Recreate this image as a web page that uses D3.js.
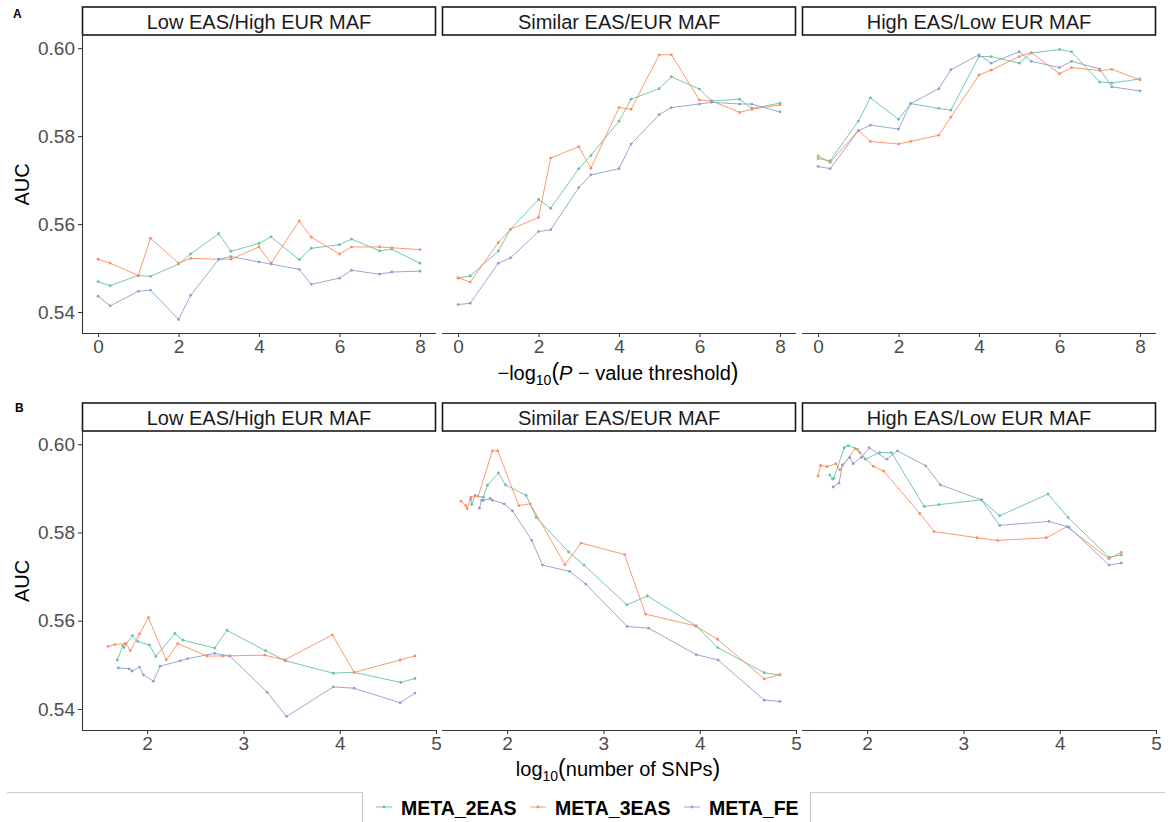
<!DOCTYPE html>
<html><head><meta charset="utf-8">
<script src="https://cdn.jsdelivr.net/npm/d3@7"></script>
<style>
html,body{margin:0;padding:0;background:#fff;}
text{font-family:"Liberation Sans",Arial,sans-serif;}
</style></head>
<body>
<svg id="chart" width="1171" height="822"></svg>
<script>
// ---------------- DATA ----------------
const facets = ["Low EAS/High EUR MAF", "Similar EAS/EUR MAF", "High EAS/Low EUR MAF"];
const methods = ["META_2EAS", "META_3EAS", "META_FE"];
const colors = ["#66C2A5", "#FC8D62", "#8DA0CB"];
// -log10(P-value threshold)
const negLogP = [0, 0.301, 1, 1.301, 2, 2.301, 3, 3.301, 4, 4.301, 5, 5.301, 6, 6.301, 7, 7.301, 8];
const xTicksA = [0, 2, 4, 6, 8];
const xTicksB = [2, 3, 4, 5];
const yTicks = [0.54, 0.56, 0.58, 0.60];

// AUC values (ordered like negLogP)
const auc_low_2EAS = [0.5469,0.5460,0.5483,0.5481,0.5509,0.5532,0.5578,0.5538,0.5556,0.5571,0.5519,0.5545,0.5553,0.5566,0.5539,0.5543,0.5511];
const auc_low_3EAS = [0.5520,0.5511,0.5483,0.5568,0.5511,0.5522,0.5520,0.5520,0.5548,0.5511,0.5607,0.5570,0.5532,0.5548,0.5548,0.5546,0.5542];
const auc_low_FE   = [0.5436,0.5414,0.5447,0.5450,0.5383,0.5438,0.5520,0.5526,0.5514,0.5509,0.5497,0.5463,0.5477,0.5495,0.5486,0.5491,0.5493];
const auc_sim_2EAS = [0.5477,0.5482,0.5539,0.5588,0.5656,0.5636,0.5726,0.5756,0.5834,0.5884,0.5908,0.5935,0.5907,0.5880,0.5884,0.5863,0.5875];
const auc_sim_3EAS = [0.5478,0.5468,0.5558,0.5588,0.5615,0.5750,0.5776,0.5727,0.5865,0.5861,0.5985,0.5985,0.5882,0.5880,0.5854,0.5861,0.5871];
const auc_sim_FE   = [0.5417,0.5420,0.5511,0.5523,0.5583,0.5587,0.5683,0.5712,0.5726,0.5782,0.5849,0.5865,0.5873,0.5877,0.5873,0.5873,0.5855];
const auc_high_2EAS = [0.5749,0.5744,0.5834,0.5887,0.5838,0.5874,0.5863,0.5859,0.5981,0.5981,0.5966,0.5989,0.5997,0.5992,0.5923,0.5921,0.5930];
const auc_high_3EAS = [0.5755,0.5740,0.5813,0.5788,0.5782,0.5788,0.5802,0.5843,0.5939,0.5950,0.5981,0.5990,0.5942,0.5956,0.5949,0.5952,0.5928];
const auc_high_FE   = [0.5731,0.5726,0.5812,0.5825,0.5816,0.5874,0.5908,0.5951,0.5985,0.5966,0.5992,0.5970,0.5956,0.5970,0.5953,0.5912,0.5903];

// log10(number of SNPs) at each threshold (ordered like negLogP)
const snp_low_2EAS = [4.781,4.635,4.149,3.934,3.441,3.229,2.830,2.701,2.371,2.288,2.090,2.024,1.903,1.847,1.760,1.747,1.691];
const snp_low_3EAS = [4.781,4.628,4.149,3.924,3.427,3.222,2.788,2.622,2.319,2.198,2.014,1.920,1.826,1.781,1.768,1.665,1.595];
const snp_low_FE   = [4.781,4.628,4.149,3.934,3.448,3.247,2.858,2.701,2.420,2.344,2.135,2.066,1.962,1.920,1.844,1.812,1.701];
const snp_sim_2EAS = [4.833,4.670,4.188,3.965,3.458,3.243,2.799,2.639,2.302,2.198,1.983,1.910,1.795,1.753,1.667,1.632,1.622];
const snp_sim_3EAS = [4.833,4.670,4.184,3.958,3.438,3.219,2.767,2.601,2.240,2.122,1.903,1.847,1.700,1.625,1.585,1.570,1.521];
const snp_sim_FE   = [4.833,4.670,4.191,3.965,3.469,3.247,2.816,2.649,2.368,2.257,2.056,1.969,1.847,1.823,1.753,1.736,1.712];
const snp_high_2EAS = [4.640,4.512,4.087,3.879,3.377,3.187,2.747,2.592,2.253,2.131,1.980,1.899,1.805,1.762,1.655,1.640,1.612];
const snp_high_3EAS = [4.640,4.512,4.076,3.862,3.356,3.142,2.696,2.547,2.173,2.066,1.924,1.875,1.716,1.675,1.585,1.517,1.491];
const snp_high_FE   = [4.640,4.512,4.097,3.889,3.377,3.187,2.761,2.609,2.315,2.205,2.021,1.941,1.855,1.820,1.744,1.709,1.647];

const aucs = [[auc_low_2EAS,auc_low_3EAS,auc_low_FE],[auc_sim_2EAS,auc_sim_3EAS,auc_sim_FE],[auc_high_2EAS,auc_high_3EAS,auc_high_FE]];
const snps = [[snp_low_2EAS,snp_low_3EAS,snp_low_FE],[snp_sim_2EAS,snp_sim_3EAS,snp_sim_FE],[snp_high_2EAS,snp_high_3EAS,snp_high_FE]];

// ---------------- LAYOUT ----------------
const svg = d3.select("#chart");
const panelLefts = [82, 442, 802];
const panelW = 354;
const rows = [
  {tag:"A", tagX:13, tagY:18, stripTop:7, top:36, bottom:333, xdata:"p"},
  {tag:"B", tagX:15, tagY:412, stripTop:403, top:432, bottom:730, xdata:"n"}
];
const stripH = 28;

function padded(ext, f=0.05){ const r = ext[1]-ext[0]; return [ext[0]-r*f, ext[1]+r*f]; }
const allAuc = aucs.flat(2);
const yDomain = padded(d3.extent(allAuc));
const xDomA = padded(d3.extent(negLogP));
const xDomB = padded(d3.extent(snps.flat(2)));

const tickCol = "#4D4D4D";
const axisCol = "#333333";

rows.forEach((row, ri) => {
  const y = d3.scaleLinear().domain(yDomain).range([row.bottom, row.top]);
  const x = d3.scaleLinear().domain(ri===0 ? xDomA : xDomB).range([0, panelW]);
  svg.append("text").attr("x", row.tagX).attr("y", row.tagY)
    .attr("font-size", 12).attr("font-weight", "bold").attr("fill", "#000").text(row.tag);

  facets.forEach((f, fi) => {
    const g = svg.append("g").attr("transform", `translate(${panelLefts[fi]},0)`);
    // strip
    g.append("rect").attr("x", 0.5).attr("y", row.stripTop).attr("width", panelW-1).attr("height", stripH)
      .attr("fill", "#fff").attr("stroke", "#1A1A1A").attr("stroke-width", 1.6);
    g.append("text").attr("x", panelW/2).attr("y", row.stripTop + 21.5).attr("text-anchor", "middle")
      .attr("font-size", 20).attr("fill", "#1A1A1A").text(f);

    // x axis
    const xAxis = d3.axisBottom(x).tickValues(ri===0 ? xTicksA : xTicksB).tickSize(4).tickPadding(3)
      .tickFormat(d3.format("d"));
    const xa = g.append("g").attr("transform", `translate(0,${row.bottom})`).call(xAxis);
    xa.select(".domain").attr("stroke", axisCol).attr("stroke-width", 1.1);
    xa.selectAll(".tick line").attr("stroke", axisCol);
    xa.selectAll(".tick text").attr("fill", tickCol).attr("font-size", 19)
      .attr("font-family", '"Liberation Sans",Arial,sans-serif');
    xa.select(".domain").attr("d", `M0,0.5H${panelW}`);

    if (fi === 0) {
      const yAxis = d3.axisLeft(y).tickValues(yTicks).tickSize(4).tickPadding(3).tickFormat(d3.format(".2f"));
      const ya = g.append("g").call(yAxis);
      ya.select(".domain").attr("stroke", axisCol).attr("stroke-width", 1.1)
        .attr("d", `M0.5,${row.top}V${row.bottom}`);
      ya.selectAll(".tick line").attr("stroke", axisCol);
      ya.selectAll(".tick text").attr("fill", tickCol).attr("font-size", 19)
        .attr("font-family", '"Liberation Sans",Arial,sans-serif');
    }

    methods.forEach((m, mi) => {
      const xs = ri===0 ? negLogP : snps[fi][mi];
      const pts = xs.map((xv, i) => ({x: xv, y: aucs[fi][mi][i]}));
      if (ri === 1) pts.sort((a,b) => a.x - b.x);
      const line = d3.line().x(d => x(d.x)).y(d => y(d.y));
      g.append("path").datum(pts).attr("d", line).attr("fill", "none")
        .attr("stroke", colors[mi]).attr("stroke-width", 0.9);
      g.selectAll(null).data(pts).enter().append("circle")
        .attr("cx", d => x(d.x)).attr("cy", d => y(d.y)).attr("r", 1.4).attr("fill", colors[mi]);
    });
  });

  // y title
  svg.append("text").attr("transform", `translate(29,${(row.top+row.bottom)/2}) rotate(-90)`)
    .attr("text-anchor", "middle").attr("font-size", 20).attr("fill", "#000").text("AUC");
});

// x titles
const tA = svg.append("text").attr("x", 618).attr("y", 380).attr("text-anchor", "middle")
  .attr("font-size", 20).attr("fill", "#000");
tA.append("tspan").text("\u2212log");
tA.append("tspan").attr("font-size", 14).attr("dy", 5).text("10");
tA.append("tspan").attr("font-size", 23).attr("dy", -5).text("(");
tA.append("tspan").attr("font-style", "italic").text("P");
tA.append("tspan").text(" \u2212 value threshold");
tA.append("tspan").attr("font-size", 23).text(")");

const tB = svg.append("text").attr("x", 618).attr("y", 776).attr("text-anchor", "middle")
  .attr("font-size", 20).attr("fill", "#000");
tB.append("tspan").text("log");
tB.append("tspan").attr("font-size", 14).attr("dy", 5).text("10");
tB.append("tspan").attr("font-size", 23).attr("dy", -5).text("(");
tB.append("tspan").text("number of SNPs");
tB.append("tspan").attr("font-size", 23).text(")");

// legend frame
const lg = svg.append("g");
lg.append("path").attr("d", "M7,792.5H362.5V822").attr("fill", "none").attr("stroke", "#CCCCCC").attr("stroke-width", 1.2);
lg.append("path").attr("d", "M1165,792.5H810.5V822").attr("fill", "none").attr("stroke", "#CCCCCC").attr("stroke-width", 1.2);
const keyX = [376, 530, 684];
const textX = [401, 555, 709];
methods.forEach((m, mi) => {
  lg.append("line").attr("x1", keyX[mi]).attr("x2", keyX[mi]+16).attr("y1", 807).attr("y2", 807)
    .attr("stroke", colors[mi]).attr("stroke-width", 0.9);
  lg.append("circle").attr("cx", keyX[mi]+8).attr("cy", 807).attr("r", 1.4).attr("fill", colors[mi]);
  lg.append("text").attr("x", textX[mi]).attr("y", 815).attr("font-size", 19.5).attr("font-weight", "bold")
    .attr("fill", "#000").text(m);
});
</script>
</body></html>
